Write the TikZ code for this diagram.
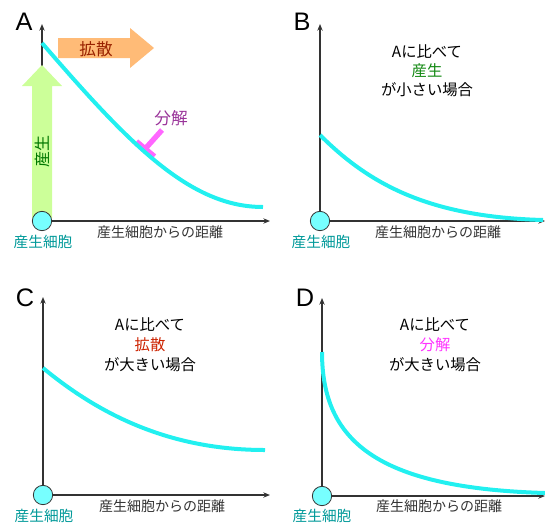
\documentclass[tikz,border=0pt]{standalone}
\usepackage{fontspec}
\setmainfont{Noto Sans CJK JP}
\newfontfamily\latinbig{Liberation Sans}
\usetikzlibrary{arrows.meta}
\definecolor{axisgray}{HTML}{333333}
\definecolor{curvecyan}{HTML}{22F0F0}
\definecolor{cellfill}{HTML}{77FFFF}
\definecolor{cellteal}{HTML}{009999}
\definecolor{prodgreen}{HTML}{CCFF99}
\definecolor{prodtext}{HTML}{007700}
\definecolor{diffor}{HTML}{FFBB77}
\definecolor{difftext}{HTML}{992200}
\definecolor{degT}{HTML}{FF66FF}
\definecolor{degtext}{HTML}{993399}
\definecolor{greentxt}{HTML}{118811}
\definecolor{redtxt}{HTML}{CC2200}
\definecolor{pinktxt}{HTML}{FF33FF}
\tikzset{
  axisline/.style={draw=axisgray, line width=0.9pt, -{Stealth[length=5pt,width=4pt]}},
  cell/.style={circle, draw=axisgray, line width=0.6pt, fill=cellfill, minimum size=14.5pt, inner sep=0pt},
  celllabel/.style={text=cellteal, font=\fontsize{11}{13}\selectfont, inner sep=0pt},
  xlabel/.style={text=axisgray, font=\fontsize{10.5}{12}\selectfont, inner sep=0pt},
  panel/.style={font=\latinbig\fontsize{19}{20}\selectfont, inner sep=0pt},
  curve/.style={draw=curvecyan, line width=3pt},
  note/.style={font=\fontsize{11.5}{14}\selectfont, inner sep=0pt, align=center}
}
\begin{document}
\begin{tikzpicture}[x=0.75pt, y=-0.75pt]
\useasboundingbox (0,0) rectangle (545,525);
% ---------- Panel A ----------
\coordinate (oA) at (42,221);
\coordinate (yA) at (42,24);
\coordinate (xA) at (270,221);
\draw[axisline] (oA) -- (yA);
\draw[axisline] (oA) -- (xA);
% production arrow
\fill[prodgreen] (32,218) -- (32,86) -- (22,86) -- (42,65) -- (62,86) -- (52,86) -- (52,218) -- cycle;
\node[rotate=90, text=prodtext, font=\fontsize{12}{14}\selectfont, inner sep=0pt] (prodA) at (42,151) {産生};
% diffusion arrow
\fill[diffor] (58,38) -- (130,38) -- (130,28) -- (154,48) -- (130,68) -- (130,58) -- (58,58) -- cycle;
\node[text=difftext, font=\fontsize{12.5}{14}\selectfont, inner sep=0pt] (diffA) at (96,49) {拡散};
% degradation T
\coordinate (Tstem) at (162,130);
\coordinate (Tbase) at (145,149);
\draw[degT, line width=4pt] (Tstem) -- (Tbase);
\draw[degT, line width=5pt] (136,142) -- (154,157);
\node[text=degtext, font=\fontsize{12.5}{14}\selectfont, inner sep=0pt] (degA) at (171,118) {分解};
\node[cell] (cellA) at (oA) {};
\node[celllabel] (clA) at (43,242) {産生細胞};
\node[xlabel] (xlA) at (160,232) {産生細胞からの距離};
\node[panel] (pA) at (24,22) {A};
\draw[curve] (42,43) .. controls (130,145) and (190,207) .. (263,207);
% ---------- Panel B ----------
\coordinate (oB) at (320,221);
\coordinate (yB) at (320,24);
\coordinate (xB) at (545,221);
\draw[axisline] (oB) -- (yB);
\draw[axisline] (oB) -- (xB);
\node[cell] (cellB) at (oB) {};
\node[celllabel] (clB) at (321,242) {産生細胞};
\node[xlabel] (xlB) at (438,232) {産生細胞からの距離};
\node[panel] (pB) at (302,22) {B};
\draw[curve] (320,135) .. controls (370,185) and (430,217) .. (543,220);
\node[note] (nB1) at (427,52) {Aに比べて};
\node[note, text=greentxt] (nB2) at (427,71) {産生};
\node[note] (nB3) at (427,90) {が小さい場合};
% ---------- Panel C ----------
\coordinate (oC) at (43,495);
\coordinate (yC) at (43,297);
\coordinate (xC) at (270,495);
\draw[axisline] (oC) -- (yC);
\draw[axisline] (oC) -- (xC);
\node[cell] (cellC) at (oC) {};
\node[celllabel] (clC) at (44,516) {産生細胞};
\node[xlabel] (xlC) at (162,506) {産生細胞からの距離};
\node[panel] (pC) at (25,298) {C};
\draw[curve] (43,368) .. controls (100,415) and (170,450) .. (265,450);
\node[note] (nC1) at (150,325) {Aに比べて};
\node[note, text=redtxt] (nC2) at (150,345) {拡散};
\node[note] (nC3) at (150,365) {が大きい場合};
% ---------- Panel D ----------
\coordinate (oD) at (322,496);
\coordinate (yD) at (322,298);
\coordinate (xD) at (545,496);
\draw[axisline] (oD) -- (yD);
\draw[axisline] (oD) -- (xD);
\node[cell] (cellD) at (oD) {};
\node[celllabel] (clD) at (322,516) {産生細胞};
\node[xlabel] (xlD) at (439,506) {産生細胞からの距離};
\node[panel] (pD) at (305,298) {D};
\draw[curve] (322,352) .. controls (322,440) and (375,488) .. (545,493);
\node[note] (nD1) at (435,325) {Aに比べて};
\node[note, text=pinktxt] (nD2) at (435,345) {分解};
\node[note] (nD3) at (435,365) {が大きい場合};
\end{tikzpicture}
\end{document}
